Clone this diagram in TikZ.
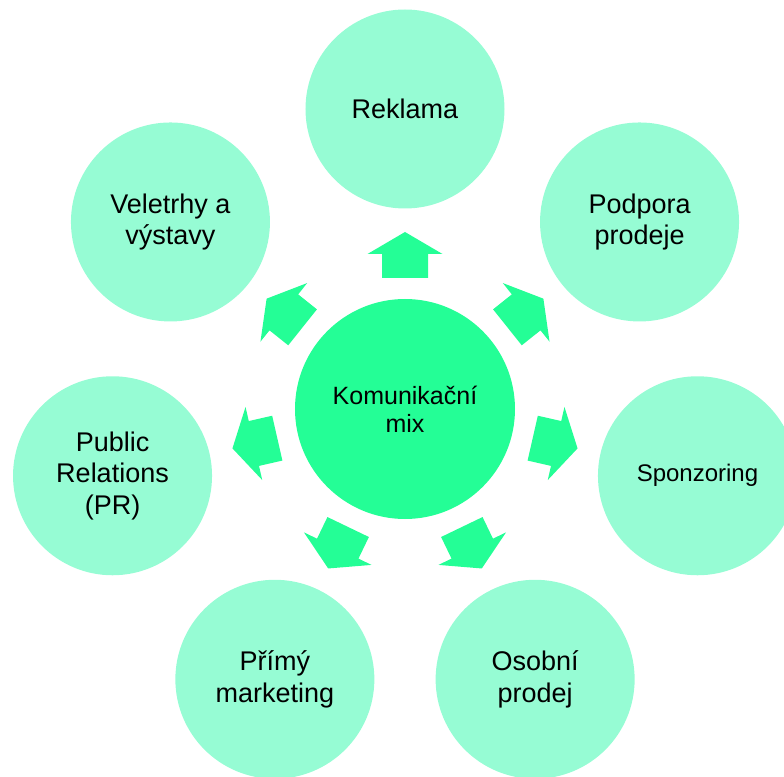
\documentclass[tikz,border=0pt]{standalone}
\usepackage{fontspec}
\setmainfont{Liberation Sans}
\definecolor{hubgreen}{RGB}{36,254,150}
\definecolor{mint}{RGB}{150,252,212}

\begin{document}
\begin{tikzpicture}[x=1pt,y=1pt,
hub/.style={circle,fill=hubgreen,inner sep=0pt,minimum size=220pt,align=center,font=\fontsize{25}{28}\selectfont},
topic/.style={circle,fill=mint,inner sep=0pt,minimum size=199pt,align=center,font=\fontsize{27}{31.5}\selectfont},
blockarrow/.style={fill=hubgreen}]
\useasboundingbox (-405,-367) rectangle (379,409);
\node[hub] (mix) at (0,0) {Komunikační\\mix};
\node[topic] (reklama) at (90:300) {Reklama};
\node[topic] (podpora) at (38.57:300) {Podpora\\prodeje};
\node[topic,font=\fontsize{24}{28}\selectfont] (sponzoring) at (-12.86:300) {Sponzoring};
\node[topic] (osobni) at (-64.29:300) {Osobní\\prodej};
\node[topic] (primy) at (-115.71:300) {Přímý\\marketing};
\node[topic] (pr) at (-167.14:300) {Public\\Relations\\(PR)};
\node[topic] (veletrhy) at (141.43:300) {Veletrhy a\\výstavy};
\foreach \i [evaluate=\i as \a using 90-\i*360/7] in {0,...,6}
  \fill[blockarrow,rotate=\a] (131,-23) -- (155,-23) -- (155,-37.5) -- (177,0)
    -- (155,37.5) -- (155,23) -- (131,23) -- cycle;
\end{tikzpicture}
\end{document}
